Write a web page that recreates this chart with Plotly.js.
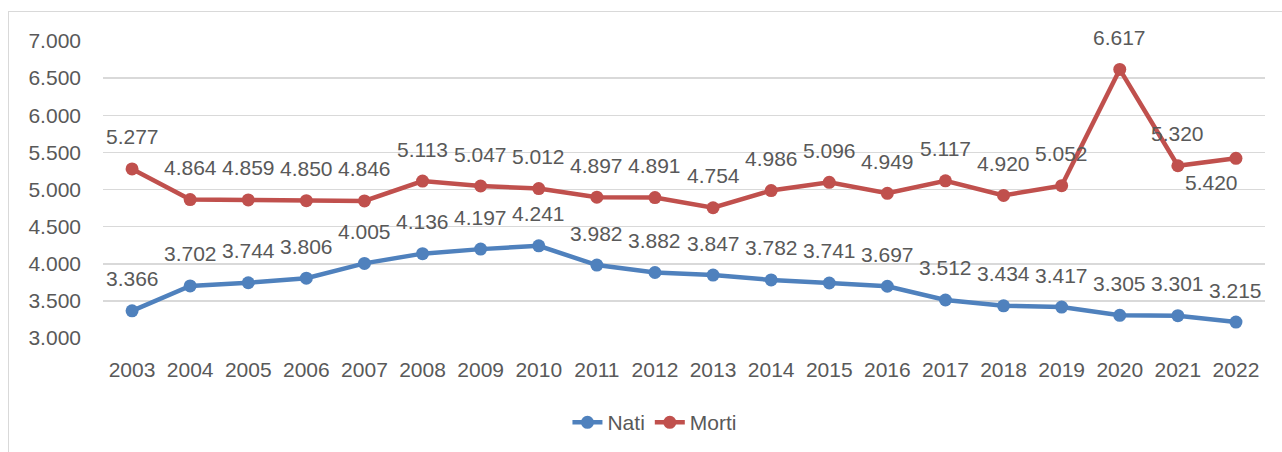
<!DOCTYPE html>
<html>
<head>
<meta charset="utf-8">
<script src="https://cdn.plot.ly/plotly-3.0.1.min.js"></script>
<style>
html,body{margin:0;padding:0;background:#fff;overflow:hidden;}
#frame{position:absolute;left:8px;top:11px;width:1300px;height:470px;border:1.5px solid #d9d9d9;box-sizing:border-box;pointer-events:none;z-index:5;}
#chart{position:absolute;left:0;top:0;width:1282px;height:452px;}
</style>
</head>
<body>
<div id="frame"></div>
<div id="chart"></div>
<script>
const years = ['2003','2004','2005','2006','2007','2008','2009','2010','2011','2012','2013','2014','2015','2016','2017','2018','2019','2020','2021','2022'];
const nati  = [3366,3702,3744,3806,4005,4136,4197,4241,3982,3882,3847,3782,3741,3697,3512,3434,3417,3305,3301,3215];
const morti = [5277,4864,4859,4850,4846,5113,5047,5012,4897,4891,4754,4986,5096,4949,5117,4920,5052,6617,5320,5420];
const seriesNames = ['Nati','Morti'];
const colors = ['#4F81BD','#C0504D'];

function fmt(v){
  const s = String(Math.round(v));
  return s.replace(/\B(?=(\d{3})+(?!\d))/g, '.');
}

const font = 'Liberation Sans, Arial, sans-serif';
const textColor = '#595959';
const fs = 21;

const traces = [nati, morti].map((vals, i) => ({
  type: 'scatter',
  mode: 'lines+markers',
  name: seriesNames[i],
  x: years,
  y: vals,
  line: {color: colors[i], width: 4.5},
  marker: {color: colors[i], size: 13},
  hoverinfo: 'skip'
}));

const annotations = [];
[nati, morti].forEach((vals, si) => {
  vals.forEach((v, i) => {
    let xs = 0, ys = 32;
    if (si === 1 && i === vals.length - 1) { xs = -24; ys = -24; }
    annotations.push({
      x: i, y: v, xref: 'x', yref: 'y',
      text: fmt(v), showarrow: false,
      xshift: xs, yshift: ys,
      font: {family: font, size: fs, color: textColor}
    });
  });
});

const layout = {
  width: 1282, height: 452,
  margin: {l: 103, r: 17, t: 41, b: 114, autoexpand: false},
  paper_bgcolor: 'rgba(0,0,0,0)',
  plot_bgcolor: '#fff',
  separators: ',.',
  showlegend: true,
  legend: {
    orientation: 'h', x: 0.475, xanchor: 'center', y: -0.285, yanchor: 'middle',
    font: {family: font, size: fs, color: textColor}
  },
  xaxis: {
    type: 'category',
    range: [-0.5, years.length - 0.5],
    autorange: false,
    showgrid: false, zeroline: false, showline: false,
    ticks: '',
    tickfont: {family: font, size: fs, color: textColor},
    ticklabelstandoff: 17,
    fixedrange: true
  },
  yaxis: {
    range: [3000, 7000],
    autorange: false,
    dtick: 500,
    tick0: 3000,
    tickformat: ',d',
    showgrid: true, gridcolor: '#d9d9d9', gridwidth: 1.5,
    zeroline: false, showline: false,
    ticks: '',
    tickfont: {family: font, size: fs, color: textColor},
    ticklabelstandoff: 21,
    fixedrange: true
  },
  annotations: annotations
};

Plotly.newPlot('chart', traces, layout, {displayModeBar: false, staticPlot: true});
</script>
</body>
</html>
